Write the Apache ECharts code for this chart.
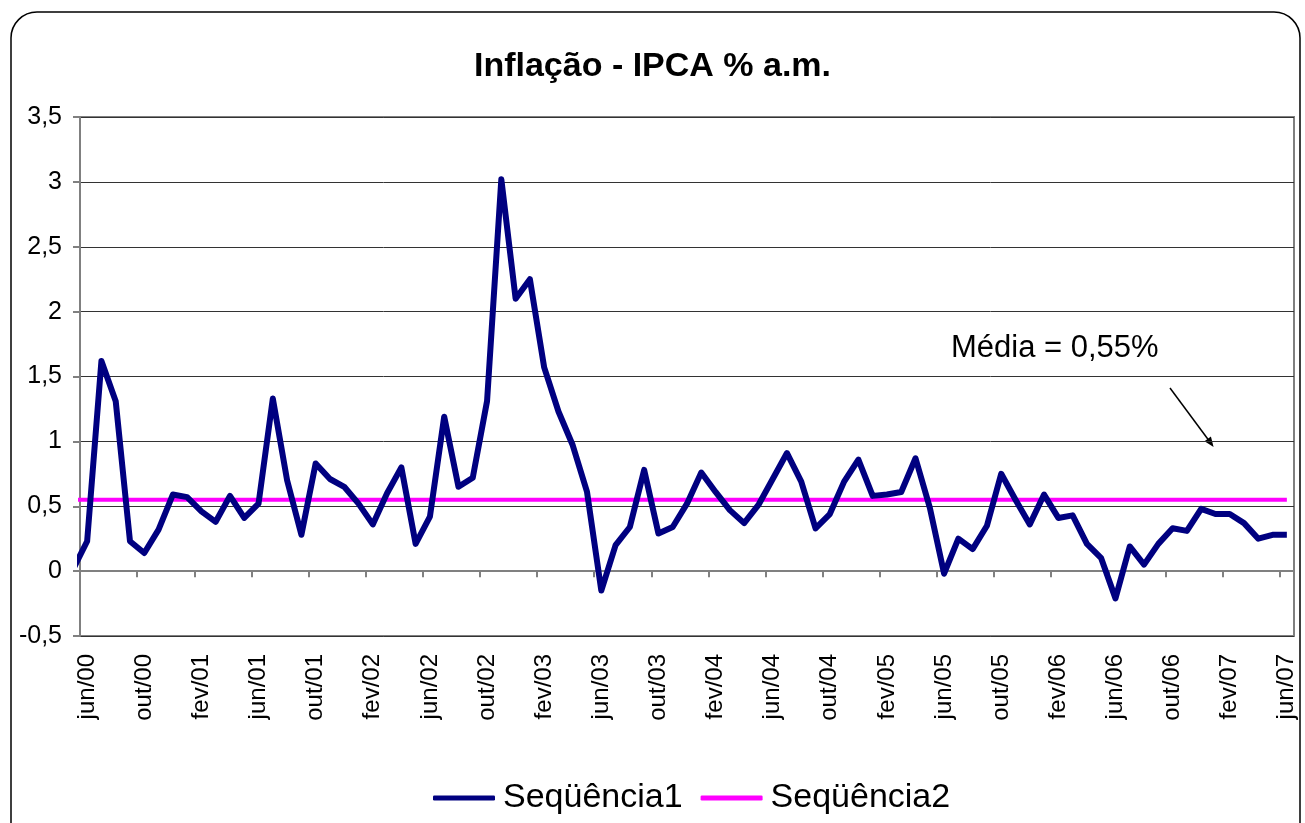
<!DOCTYPE html>
<html>
<head>
<meta charset="utf-8">
<script src="https://cdn.jsdelivr.net/npm/echarts@6/dist/echarts.min.js"></script>
<style>
  html, body { margin: 0; padding: 0; background: #fff; }
  #chart { width: 1305px; height: 823px; }
</style>
</head>
<body>
<div id="chart"></div>
<script>
// meses (mai/00 fica fora do eixo, só dá o pedacinho de linha na borda)
const categories = [
  'mai/00', 'jun/00', 'jul/00', 'ago/00', 'set/00', 'out/00', 'nov/00', 'dez/00',
  'jan/01', 'fev/01', 'mar/01', 'abr/01', 'mai/01', 'jun/01', 'jul/01', 'ago/01', 'set/01', 'out/01', 'nov/01', 'dez/01',
  'jan/02', 'fev/02', 'mar/02', 'abr/02', 'mai/02', 'jun/02', 'jul/02', 'ago/02', 'set/02', 'out/02', 'nov/02', 'dez/02',
  'jan/03', 'fev/03', 'mar/03', 'abr/03', 'mai/03', 'jun/03', 'jul/03', 'ago/03', 'set/03', 'out/03', 'nov/03', 'dez/03',
  'jan/04', 'fev/04', 'mar/04', 'abr/04', 'mai/04', 'jun/04', 'jul/04', 'ago/04', 'set/04', 'out/04', 'nov/04', 'dez/04',
  'jan/05', 'fev/05', 'mar/05', 'abr/05', 'mai/05', 'jun/05', 'jul/05', 'ago/05', 'set/05', 'out/05', 'nov/05', 'dez/05',
  'jan/06', 'fev/06', 'mar/06', 'abr/06', 'mai/06', 'jun/06', 'jul/06', 'ago/06', 'set/06', 'out/06', 'nov/06', 'dez/06',
  'jan/07', 'fev/07', 'mar/07', 'abr/07', 'mai/07', 'jun/07'
];

// IPCA mensal (%)
const ipca = [
  0.01, 0.23, 1.62, 1.31, 0.23, 0.14, 0.32, 0.59,
  0.57, 0.46, 0.38, 0.58, 0.41, 0.52, 1.33, 0.70, 0.28, 0.83, 0.71, 0.65,
  0.52, 0.36, 0.60, 0.80, 0.21, 0.42, 1.19, 0.65, 0.72, 1.31, 3.02, 2.10,
  2.25, 1.57, 1.23, 0.97, 0.61, -0.15, 0.20, 0.34, 0.78, 0.29, 0.34, 0.52,
  0.76, 0.61, 0.47, 0.37, 0.51, 0.71, 0.91, 0.69, 0.33, 0.44, 0.69, 0.86,
  0.58, 0.59, 0.61, 0.87, 0.49, -0.02, 0.25, 0.17, 0.35, 0.75, 0.55, 0.36,
  0.59, 0.41, 0.43, 0.21, 0.10, -0.21, 0.19, 0.05, 0.21, 0.33, 0.31, 0.48,
  0.44, 0.44, 0.37, 0.25, 0.28, 0.28
];

// média do período
const media = categories.map(() => 0.55);

const yTicks = [-0.5, 0, 0.5, 1, 1.5, 2, 2.5, 3, 3.5];

const font = 'Liberation Sans, Arial, sans-serif';
const every4 = (idx) => (idx - 1) % 4 === 0;

const chart = echarts.init(document.getElementById('chart'));

chart.setOption({
  animation: false,
  backgroundColor: '#fff',
  title: {
    text: 'Inflação - IPCA % a.m.',
    left: 'center',
    top: 45,
    textStyle: { fontFamily: font, fontSize: 34, fontWeight: 'bold', color: '#000' }
  },
  legend: {
    top: 776,
    left: 428,
    itemWidth: 62,
    itemHeight: 5,
    itemGap: 18,
    textStyle: { fontFamily: font, fontSize: 34, color: '#000', padding: [0, 0, 0, 3] },
    data: [
      { name: 'Seqüência1', icon: 'roundRect' },
      { name: 'Seqüência2', icon: 'roundRect' }
    ]
  },
  grid: {
    left: 80, right: 11, top: 117, bottom: 187,
    show: true, borderColor: '#808080', borderWidth: 2
  },
  xAxis: [
    {
      // eixo no zero, só linha e ticks
      type: 'category',
      data: categories,
      min: 1,
      boundaryGap: true,
      axisLine: { onZero: true, lineStyle: { color: '#808080', width: 2 } },
      axisTick: { show: true, inside: false, length: 6, interval: every4, lineStyle: { color: '#808080', width: 2 } },
      axisLabel: { show: false },
      splitLine: { show: false }
    },
    {
      // rótulos embaixo
      type: 'category',
      data: categories,
      min: 1,
      boundaryGap: true,
      position: 'bottom',
      axisLine: { onZero: false, show: false },
      axisTick: { show: false },
      axisLabel: {
        interval: every4,
        rotate: 90,
        margin: 18,
        fontFamily: font,
        fontSize: 24,
        color: '#000'
      },
      splitLine: { show: false }
    }
  ],
  yAxis: {
    type: 'value',
    min: yTicks[0],
    max: yTicks[yTicks.length - 1],
    interval: 0.5,
    axisLine: { show: true, lineStyle: { color: '#808080', width: 2 } },
    axisTick: { show: true, length: 7, lineStyle: { color: '#808080', width: 2 } },
    axisLabel: {
      margin: 18,
      fontFamily: font,
      fontSize: 25,
      color: '#000',
      formatter: (v) => String(v).replace('.', ',')
    },
    splitLine: { lineStyle: { color: '#333', width: 1 } }
  },
  series: [
    {
      name: 'Seqüência2',
      type: 'line',
      data: media,
      xAxisIndex: 0,
      showSymbol: false,
      symbol: 'none',
      z: 2,
      lineStyle: { color: '#FF00FF', width: 4 },
      itemStyle: { color: '#FF00FF' }
    },
    {
      name: 'Seqüência1',
      type: 'line',
      data: ipca,
      xAxisIndex: 0,
      showSymbol: false,
      symbol: 'none',
      z: 3,
      lineStyle: { color: '#000080', width: 6, join: 'round' },
      itemStyle: { color: '#000080' }
    }
  ],
  graphic: [
    {
      type: 'rect',
      shape: { x: 11, y: 12, width: 1289, height: 840, r: 26 },
      style: { fill: 'none', stroke: '#000', lineWidth: 1.5 },
      silent: true
    },
    {
      type: 'text',
      x: 951,
      y: 348,
      style: {
        text: 'Média = 0,55%',
        fontFamily: font,
        fontSize: 31,
        fill: '#000',
        textVerticalAlign: 'middle'
      }
    },
    {
      type: 'line',
      shape: { x1: 1170, y1: 388, x2: 1210, y2: 442 },
      style: { stroke: '#000', lineWidth: 1.5 }
    },
    {
      type: 'polygon',
      shape: { points: [[1213.6, 447], [1204.5, 441.3], [1210.9, 436.5]] },
      style: { fill: '#000' }
    }
  ]
});
</script>
</body>
</html>
